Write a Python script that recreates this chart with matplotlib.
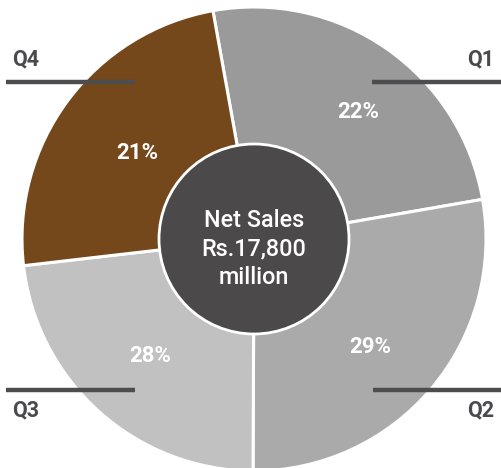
import matplotlib
matplotlib.use("Agg")
import matplotlib.pyplot as plt
from matplotlib.patches import Circle

plt.rcParams['font.family'] = ['Roboto', 'DejaVu Sans']

quarters = ['Q1', 'Q2', 'Q3', 'Q4']
slice_shares = [25.1, 27.8, 23.1, 24.0]      # slice sizes as drawn
pct_labels = ['22%', '29%', '28%', '21%']    # printed labels
colors = ['#9a9a9a', '#aaaaaa', '#c1c1c1', '#74481a']
center_text = 'Net Sales\nRs.17,800\nmillion'

W, H = 501, 468
fig = plt.figure(figsize=(W / 100, H / 100), dpi=100)
ax = fig.add_axes([0, 0, 1, 1])

cx, cy, R = 254, H - 239, 232
wedges, _ = ax.pie(slice_shares, colors=colors, startangle=100.2, counterclock=False,
                   center=(cx, cy), radius=R,
                   wedgeprops=dict(edgecolor='white', linewidth=2.2))
ax.add_patch(Circle((cx, cy), 95, facecolor='#4b494a', edgecolor='white', linewidth=2, zorder=5))
ax.text(cx, H - 249, center_text, ha='center', va='center', color='white', fontsize=16.8,
        fontweight='medium', linespacing=1.32, zorder=6)

pct_pos = [(358, 112), (370, 347), (150, 356), (137, 153)]
for (px, py), lab in zip(pct_pos, pct_labels):
    ax.text(px, H - py, lab, ha='center', va='center', color='white', fontsize=16,
            fontweight='bold', zorder=6)

# leader lines and quarter labels
lines = {'Q1': ((372, 501), 82, (481, 59)),
         'Q2': ((373, 501), 390, (481, 410)),
         'Q3': ((6, 135), 390, (26, 410)),
         'Q4': ((6, 135), 82, (26, 59))}
for q in quarters:
    (x0, x1), ly, (tx, ty) = lines[q]
    ax.plot([x0, x1], [H - ly, H - ly], color='#4d4c4e', linewidth=3.2,
            solid_capstyle='butt', zorder=7)
    ax.text(tx, H - ty, q, ha='center', va='center', color='#4a494b', fontsize=15.5,
            fontweight='bold', zorder=7)

ax.set_xlim(0, W)
ax.set_ylim(0, H)
ax.set_aspect('auto')
ax.axis('off')
fig.savefig('out.png', dpi=100)
